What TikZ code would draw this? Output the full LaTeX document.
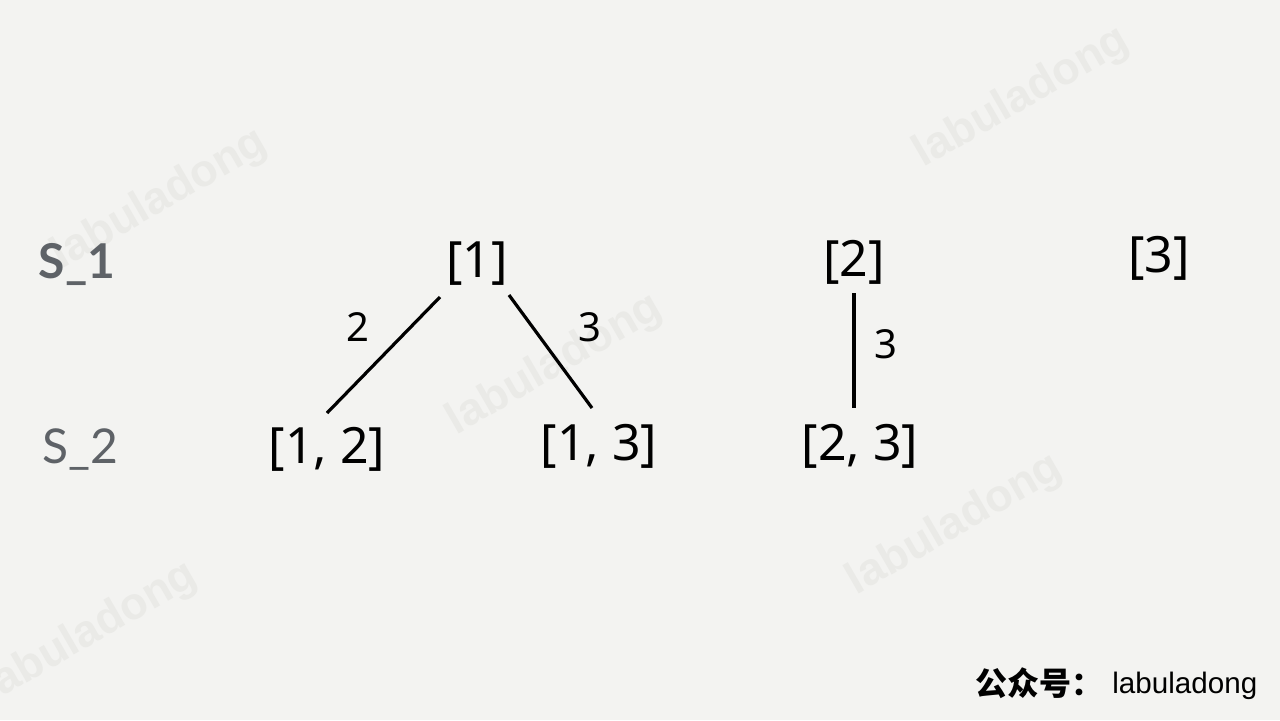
\documentclass[tikz,border=0pt]{standalone}
\usepackage{fontspec}
\setmainfont{Noto Sans}
\newfontfamily\rowfont{Lato}
\newfontfamily\logofont{Liberation Sans}
\newfontfamily\cjkfont{Noto Sans CJK SC}
\definecolor{paper}{HTML}{F3F3F1}
\definecolor{wmgray}{HTML}{EAEAE7}
\definecolor{rowgray}{HTML}{5E6267}
\tikzset{
  subset/.style={inner sep=0pt,font=\fontsize{25}{25}\selectfont},
  weight/.style={inner sep=0pt,font=\fontsize{20}{20}\selectfont},
  level/.style={inner sep=0pt,text=rowgray,font=\rowfont\fontsize{24}{24}\selectfont},
  wmark/.style={rotate=30,text=wmgray,font=\logofont\bfseries\fontsize{22.5}{22.5}\selectfont},
  edge/.style={line width=1.6pt}
}
\begin{document}
\begin{tikzpicture}
    [x=0.5pt,y=-0.5pt]
    \fill [paper] (0,0) rectangle (1280,720);
    \useasboundingbox (0,0) rectangle (1280,720);
    % watermarks
    \foreach \wx/\wy [count=\i] in {160/200,1022/98,555/365,955/525,90/633}
      \node (wm\i) at (\wx,\wy) [wmark] {labuladong};
    \node (s1) at (77,278) [level,anchor=base] {\bfseries S\_1};
    \node (s2) at (80,463) [level,anchor=base] {S\_2};
    \node (n1) at (477,264) [subset] {[1]};
    \node (n2) at (854,262) [subset] {[2]};
    \node (n3) at (1159,258) [subset] {[3]};
    \node (n12) at (327,449) [subset] {[1, 2]};
    \node (n13) at (599,446) [subset] {[1, 3]};
    \node (n23) at (860,446) [subset] {[2, 3]};
    \draw [edge] ([shift={(-37,33)}]n1.center) to ([shift={(0,-36)}]n12.center);
    \draw [edge] ([shift={(32,31)}]n1.center) to ([shift={(-7,-38)}]n13.center);
    \draw [edge] ([shift={(0,31)}]n2.center) to ([shift={(-6,-38)}]n23.center);
    \node (w12) at (358,327) [weight] {2};
    \node (w13) at (590,327) [weight] {3};
    \node (w23) at (886,344) [weight] {3};
    \node (gzh) at (975,683) [anchor=west,inner sep=0pt,font=\cjkfont\bfseries\fontsize{16}{16}\selectfont] {公众号：};
    \node (logo) at (1112,693) [anchor=base west,inner sep=0pt,font=\logofont\fontsize{14.8}{14.8}\selectfont] {labuladong};
  \end{tikzpicture}
\end{document}
